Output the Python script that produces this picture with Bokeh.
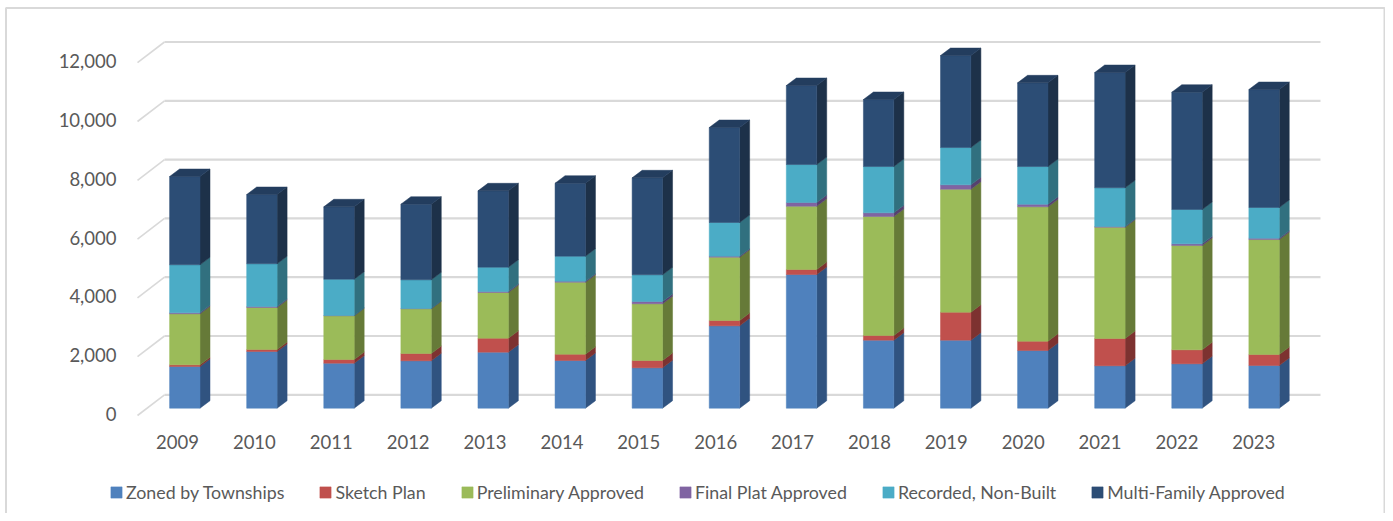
import numpy as np
from bokeh.plotting import figure
from bokeh.embed import file_html
from bokeh.resources import INLINE
from bokeh.models import (LinearAxis, Range1d, FixedTicker, NumeralTickFormatter,
                          Legend, LegendItem)

years = ["2009","2010","2011","2012","2013","2014","2015","2016","2017","2018","2019","2020","2021","2022","2023"]
zoned = [1418,1928,1530,1612,1905,1622,1374,2802,4547,2313,2313,1962,1442,1510,1452]
sketch = [58,68,126,248,476,215,248,181,170,160,952,317,928,476,374]
prelim = [1735,1429,1487,1521,1554,2448,1929,2153,2153,4047,4183,4571,3786,3547,3911]
final = [34,34,10,10,34,34,78,34,126,126,150,88,24,58,45]
recorded = [1632,1452,1234,976,826,851,908,1146,1292,1574,1268,1282,1316,1167,1044]
multi = [3003,2357,2463,2571,2599,2482,3299,3231,2687,2279,3129,2847,3921,3989,4013]

names = ["Zoned by Townships","Sketch Plan","Preliminary Approved","Final Plat Approved","Recorded, Non-Built","Multi-Family Approved"]
series = [zoned, sketch, prelim, final, recorded, multi]
front_colors = ["#4F81BD","#C0504D","#9BBB59","#8064A2","#4BACC6","#2C4D75"]
side_colors = ["#305380","#7D3230","#667A38","#55416F","#31707F","#1D3149"]
top_color = "#233D5E"
ticks = [0,2000,4000,6000,8000,10000,12000]

FONT = "Lato"
TXT = "#595959"
GRID = "#D9D9D9"

# The frame fills the figure; the figure fills what the page's margin leaves of the window.
fig_w, fig_h = 1385, 513
px_per_unit = 0.0294
pitch = 77.09
bar0_px = 184.3
zero_px = 415.0
tick_zero_px = 413.5
label0_px = 177.0
label_pitch = 76.88
wall_left_px = 137.0
wall_right_px = 1320.0

def X(px):
    return (px - bar0_px) / pitch

def Y(py):
    return (zero_px - py) / px_per_unit

bar_w = 30.4 / pitch
dx_side = 10 / pitch
dy_side = 7.5 / px_per_unit
floor_bar = 7.3 / px_per_unit
dx_wall = 27 / pitch
dy_wall = 20.7 / px_per_unit

xr = Range1d(X(0), X(fig_w))
yr = Range1d(Y(fig_h), Y(0))

p = figure(width=fig_w, height=fig_h, x_range=xr, y_range=yr, output_backend="svg",
           toolbar_location=None, x_axis_location=None, y_axis_location=None,
           min_border=0, outline_line_color=None,
           background_fill_color="white", border_fill_color="white")
p.grid.visible = False

# chart border
p.line([X(5.5), X(5.5), X(1384), X(1384)], [Y(513), Y(7.5), Y(7.5), Y(513)], line_color=GRID, line_width=2)

# y axis: its labels sit a little above the floor's front edge
p.extra_y_ranges = {"ticks": Range1d((tick_zero_px - fig_h) / px_per_unit, tick_zero_px / px_per_unit)}
ya = LinearAxis(y_range_name="ticks", fixed_location=X(wall_left_px), ticker=FixedTicker(ticks=ticks),
                formatter=NumeralTickFormatter(format="0,0"))
ya.axis_line_color = None
ya.major_tick_line_color = None
ya.minor_tick_line_color = None
ya.major_label_standoff = 15
ya.major_label_text_font = FONT
ya.major_label_text_font_size = "18.5px"
ya.major_label_text_color = TXT
p.add_layout(ya, "left")

# x axis on its own scale: the labels are spaced slightly differently from the bars
p.extra_x_ranges = {"labels": Range1d((0 - label0_px) / label_pitch, (fig_w - label0_px) / label_pitch)}
xa = LinearAxis(x_range_name="labels", fixed_location=0, ticker=FixedTicker(ticks=list(range(len(years)))),
                major_label_overrides={i: y for i, y in enumerate(years)})
xa.axis_line_color = None
xa.major_tick_line_color = None
xa.minor_tick_line_color = None
xa.major_label_standoff = 13
xa.major_label_text_font = FONT
xa.major_label_text_font_size = "18.5px"
xa.major_label_text_color = TXT
p.add_layout(xa, "below")

# gridlines: floor diagonal + back wall
x_left = X(wall_left_px)
x_right = X(wall_right_px)
for t in ticks:
    p.line([x_left, x_left + dx_wall], [t, t + dy_wall], line_color=GRID, line_width=1.6)
    p.line([x_left + dx_wall, x_right], [t + dy_wall, t + dy_wall], line_color=GRID, line_width=2.2)

# bars
xs = np.arange(len(years), dtype=float)
base = np.zeros(len(years))
renderers = []
for vals, fc, sc in zip(series, front_colors, side_colors):
    v = np.array(vals, dtype=float)
    b = base + floor_bar
    t = b + v
    xrr = xs + bar_w / 2
    sx = [[a, a + dx_side, a + dx_side, a] for a in xrr]
    sy = [[bb, bb + dy_side, tt + dy_side, tt] for bb, tt in zip(b, t)]
    p.patches(sx, sy, fill_color=sc, line_color=sc, line_width=0.5)
    r = p.vbar(x=xs, bottom=b, top=t, width=bar_w, fill_color=fc, line_color=fc, line_width=0.5)
    renderers.append(r)
    base = base + v

# top faces
tb = base + floor_bar
tx = [[a - bar_w / 2, a - bar_w / 2 + dx_side, a + bar_w / 2 + dx_side, a + bar_w / 2] for a in xs]
ty = [[h, h + dy_side, h + dy_side, h] for h in tb]
p.patches(tx, ty, fill_color=top_color, line_color=top_color, line_width=0.5)

legend = Legend(items=[LegendItem(label=n, renderers=[r]) for n, r in zip(names, renderers)],
                orientation="horizontal", location=(109, 10), spacing=34,
                glyph_width=14, glyph_height=14, label_standoff=3, padding=0, margin=0,
                border_line_color=None, background_fill_alpha=0,
                label_text_font=FONT, label_text_font_size="17.8px", label_text_color=TXT)
p.add_layout(legend, "center")

open("out.html", "w").write(file_html(p, INLINE))
